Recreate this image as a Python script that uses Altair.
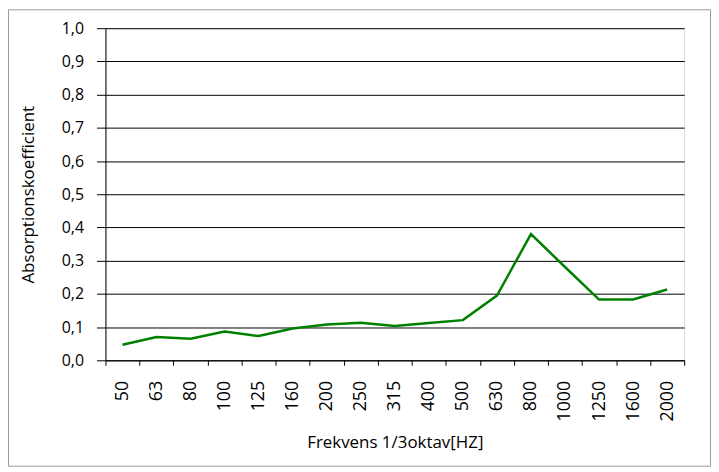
import altair as alt
import pandas as pd

freqs = ["50", "63", "80", "100", "125", "160", "200", "250", "315", "400",
         "500", "630", "800", "1000", "1250", "1600", "2000"]
absorption = [0.047, 0.070, 0.065, 0.087, 0.073, 0.096, 0.108, 0.113, 0.103,
              0.112, 0.121, 0.195, 0.380, 0.281, 0.183, 0.183, 0.213]
y_ticks = [0.0, 0.1, 0.2, 0.3, 0.4, 0.5, 0.6, 0.7, 0.8, 0.9, 1.0]

df = pd.DataFrame({"freq": freqs, "val": absorption})

FONT = "Open Sans"

line = alt.Chart(df).mark_line(color="#008000", strokeWidth=2.5).encode(
    x=alt.X("freq:N", sort=freqs, bandPosition=0.5,
            scale=alt.Scale(type="band", paddingInner=0, paddingOuter=0),
            axis=alt.Axis(title="Frekvens 1/3oktav[HZ]", tickBand="extent",
                          labelAngle=270, labelAlign="right", labelBaseline="middle",
                          labelPadding=15, tickSize=5, tickColor="black",
                          domainColor="black", grid=False,
                          labelFont=FONT, labelFontSize=18, labelColor="black",
                          titleFont=FONT, titleFontSize=17, titleFontWeight="normal",
                          titleColor="black", titlePadding=14)),
    y=alt.Y("val:Q", scale=alt.Scale(domain=[0, 1], nice=False),
            axis=alt.Axis(title="Absorptionskoefficient", values=y_ticks,
                          labelExpr="replace(format(datum.value, '.1f'), '.', ',')",
                          tickSize=9, tickColor="black", domainColor="black",
                          gridColor="black", gridWidth=1, gridOpacity=1,
                          labelPadding=13, labelFont=FONT, labelFontSize=16,
                          labelColor="black", titleFont=FONT, titleFontSize=17,
                          titleFontWeight="normal", titleColor="black",
                          titlePadding=24)),
)

frame = alt.Chart(pd.DataFrame({"a": [0]})).mark_rect(
    fill=None, stroke="#999999", strokeWidth=1
).encode(
    x=alt.value(-97.5), x2=alt.value(608.5),
    y=alt.value(-18.5), y2=alt.value(440.5),
)

chart = alt.layer(frame, line).properties(
    width=582, height=334,
    autosize=alt.AutoSizeParams(type="none"),
    padding={"left": 98, "top": 19, "right": 27, "bottom": 107},
).configure_view(stroke="#888888", strokeWidth=1.5).configure(background="white")

chart.save("out.html", embed_options={"renderer": "svg", "actions": False})
